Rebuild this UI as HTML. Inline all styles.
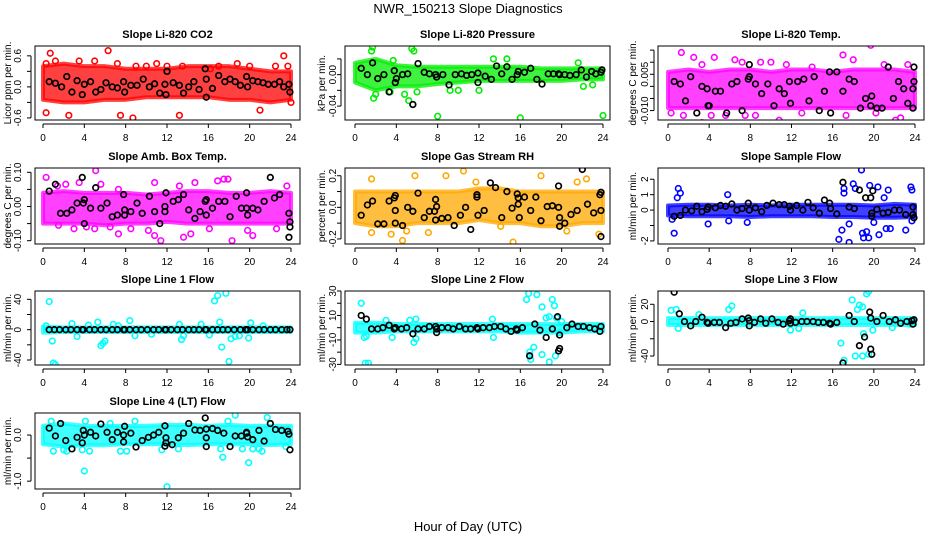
<!DOCTYPE html>
<html><head><meta charset="utf-8"><style>
html,body{margin:0;padding:0;background:#fff;}
svg{display:block;font-family:"Liberation Sans",sans-serif;}
</style></head><body>
<svg id="chart" width="936" height="540" viewBox="0 0 936 540">
<text x="468" y="13" text-anchor="middle" font-size="13">NWR_150213  Slope Diagnostics</text>
<text x="468" y="531" text-anchor="middle" font-size="13">Hour of Day (UTC)</text>
</svg>
<script>
const xTicks=[0,4,8,12,16,20,24];
const bandHours=[0,2,4,6,8,10,12,14,16,18,20,22,24];

const titles=["Slope Li-820 CO2","Slope Li-820 Pressure","Slope Li-820 Temp.","Slope Amb. Box Temp.","Slope Gas Stream RH","Slope Sample Flow","Slope Line 1 Flow","Slope Line 2 Flow","Slope Line 3 Flow","Slope Line 4 (LT) Flow"];
const yTitles=["Licor ppm per min.","kPa per min.","degrees C per min.","degrees C per min.","percent per min.","ml/min per min.","ml/min per min.","ml/min per min.","ml/min per min.","ml/min per min."];
const colors=["#ff0000","#00ee00","#ff00ff","#ff00ff","#ffa800","#0000ff","#00ffff","#00ffff","#00ffff","#00ffff"];
const yLims=[[-0.64,0.79],[-0.0577,0.0364],[-0.0139,0.0167],[-0.1097,0.1126],[-0.232,0.249],[-2.2,2.73],[-46.6,51],[-30.5,30],[-50.4,35.4],[-1.17,0.478]];
const yTickVals=[[-0.6,-0.3,0,0.3,0.6],[-0.04,-0.02,0,0.02],[-0.010,-0.005,0,0.005,0.010,0.015],[-0.10,-0.05,0,0.05,0.10],[-0.2,-0.1,0,0.1,0.2],[-2,-1,0,1,2],[-40,-20,0,20,40],[-30,-20,-10,0,10,20,30],[-40,-20,0,20],[-1,-0.5,0]];
const yTickLabels=[["-0.6","","0.0","","0.6"],["-0.04","","0.00",""],["-0.010","","","0.005","",""],["-0.10","","0.00","","0.10"],["-0.2","","0.0","","0.2"],["-2","","0","1","2"],["-40","","0","","40"],["-30","","-10","","10","","30"],["-40","","0","20"],["-1.0","","0.0"]];

const bandHi=[[0.4,0.45,0.4,0.4,0.35,0.35,0.35,0.4,0.4,0.4,0.35,0.3,0.3],[0.015,0.02,0.012,0.01,0.01,0.01,0.01,0.01,0.01,0.008,0.008,0.008,0.008],[0.006,0.007,0.006,0.007,0.007,0.006,0.007,0.007,0.006,0.007,0.007,0.007,0.006],[0.04,0.045,0.04,0.04,0.04,0.035,0.04,0.045,0.045,0.04,0.04,0.045,0.04],[0.1,0.1,0.1,0.1,0.1,0.1,0.12,0.12,0.1,0.1,0.1,0.1,0.1],[0.3,0.35,0.35,0.3,0.35,0.3,0.35,0.35,0.35,0.35,0.3,0.4,0.35],[4,3,3,3,3,3,3,3,3,3,3,3,3],[4,4,3,3,3,3,3,3,3,3,3,3,3],[4,4,4,4,4,4,4,4,4,4,4,4,4],[0.2,0.25,0.2,0.2,0.2,0.2,0.22,0.22,0.2,0.22,0.2,0.2,0.2]];
const bandLo=[[-0.25,-0.3,-0.3,-0.25,-0.25,-0.2,-0.2,-0.2,-0.2,-0.25,-0.25,-0.3,-0.25],[-0.01,-0.02,-0.015,-0.015,-0.012,-0.01,-0.008,-0.008,-0.008,-0.008,-0.008,-0.006,-0.006],[-0.009,-0.009,-0.009,-0.009,-0.009,-0.009,-0.009,-0.009,-0.009,-0.009,-0.009,-0.009,-0.009],[-0.05,-0.05,-0.05,-0.055,-0.05,-0.05,-0.045,-0.05,-0.05,-0.05,-0.05,-0.05,-0.05],[-0.1,-0.12,-0.12,-0.1,-0.1,-0.1,-0.08,-0.1,-0.1,-0.12,-0.12,-0.1,-0.1],[-0.35,-0.4,-0.4,-0.4,-0.45,-0.4,-0.4,-0.4,-0.45,-0.45,-0.5,-0.5,-0.45],[-4,-3,-3,-3,-3,-3,-3,-3,-3,-3,-3,-3,-3],[-4,-4,-3,-3,-3,-3,-3,-3,-4,-4,-4,-3,-3],[-4,-4,-4,-4,-4,-4,-4,-4,-4,-4,-4,-4,-4],[-0.2,-0.25,-0.22,-0.22,-0.2,-0.2,-0.2,-0.22,-0.2,-0.2,-0.2,-0.22,-0.2]];

const outX=[
[0.3,0.7,1.2,0.3,2.5,3.5,4,5,6.3,7,7.2,7.5,8.7,9,10,11,11.2,12,13.2,13.5,16.2,17,17.2,18.8,20,21,22.5,22,22.5,23.3,23.7,24],
[1.6,1.7,5.5,5.7,3.7,1.8,2,5.2,5.6,8.0,16,24,3.4,4.8,6,9.2,10,12,13.4,14.7,21.6,22.1,23.0],
[1.3,2.5,3.3,4.5,6.5,7.2,9,10,11.5,14,17,18,19.7,21,23.3,0.3,1.5,3.3,4.2,5.6,7.5,8.5,10.8,13,17.3,20.2,22.1,22.6],
[0.3,1.4,2.2,3.5,5.1,5.6,7.3,10.8,13.2,14.7,16.9,17.5,17.9,23.6,1.5,3.0,4.2,5.0,6.5,7.3,8.5,10.2,11.4,10.8,13.6,14.3,16.1,18.3,19.8,20.3,22.6],
[1.6,5.8,8.8,10.5,11.7,18,21.5,22.4,3.5,4.6,7.1,14.1,15.3,20.5,23.6,1.6,5],
[0.4,0.6,0.9,1.0,1.2,3.9,5.8,5.9,7.7,16.6,16.9,17.1,17.1,17.6,17.6,18.0,18.2,18.8,18.9,19.0,19.3,19.5,19.6,20.0,20.4,20.5,21.0,21.4,21.2,21.6,23.1,23.6,23.7,23.7],
[0.3,0.6,0.9,1.0,1.2,2.8,3.3,4.4,5.3,5.6,5.8,6,6.8,7.3,8.4,8.9,10.5,13.2,13.4,13.6,15.3,16.1,16.6,16.9,17.1,17.3,17.7,18.0,18.2,18.6,19.0,19.9,20.1,21.3],
[0.6,0.9,1.1,1.0,1.3,3,3.6,5.3,5.7,5.9,5.9,13.3,13.4,16.6,16.9,17.0,16.8,17.3,17.6,18.1,18.1,18.5,18.8,18.8,19.1,19.3,19.4,19.5,20,19.8],
[0.3,0.8,1.0,3.0,5.9,6.2,11.9,13.1,12.7,16.8,17.1,17.9,18.2,18.4,18.6,18.9,18.9,19.0,19.3,19.5,19.5,19.9,21.8,23.5],
[0.8,1.0,2,2.3,3.8,4,4.1,4.5,6.5,7.5,8.1,8.9,11.5,12,13.1,17.2,17.4,17.9,18.6,19.3,19.9,20.3,20.9,21.2,21.7,23.5]];
const outY=[
[0.45,0.65,0.5,-0.5,-0.55,0.5,-0.7,0.5,0.7,0.85,0.45,-0.55,-0.6,0.4,0.4,0.45,-0.7,0.4,-0.55,0.4,0.35,0.4,-0.7,0.45,0.4,-0.45,0.4,-0.9,-0.7,0.6,0.4,-0.3],
[0.03,0.035,0.033,0.03,0.018,-0.03,-0.025,-0.033,-0.038,-0.053,-0.055,-0.052,-0.022,-0.025,-0.022,-0.02,-0.02,-0.02,0.02,0.02,0.015,-0.015,-0.013],
[0.014,0.012,0.009,0.012,0.011,0.01,0.01,0.01,0.009,0.008,0.013,0.011,0.017,0.009,0.009,-0.011,-0.012,-0.015,-0.012,-0.012,-0.012,-0.012,-0.014,-0.011,-0.012,-0.011,-0.014,-0.013],
[0.085,0.06,0.065,0.07,0.105,0.065,0.05,0.07,0.06,0.07,0.075,0.08,0.08,0.06,-0.055,-0.065,-0.06,-0.065,-0.06,-0.08,-0.065,-0.07,-0.1,-0.085,-0.09,-0.08,-0.065,-0.1,-0.07,-0.085,-0.065],
[0.18,0.2,0.2,0.23,0.16,0.2,0.16,0.18,-0.17,-0.21,-0.16,-0.12,-0.22,-0.15,-0.17,-0.16,-0.15],
[-0.6,-1.5,0.8,1.4,1.1,-0.9,1.0,-0.7,-0.8,-1.9,-1.3,1.1,1.4,-2.1,-0.9,1.7,1.4,2.6,-1.5,-1.8,-1.4,-1.8,1.6,-0.8,1.5,-1.6,0.8,1.3,-1.2,-1.2,-1.3,1.5,1.3,-0.7],
[5,37,-15,-44,-46,8,-9,6,10,-21,-18,-15,7,5,12,-8,-6,7,-13,-8,7,-7,38,45,10,-23,48,-42,-12,-9,-8,-11,9,5],
[20,-8,-7,-29,-29,6,-8,6,-12,-9,7,7,-8,23,-20,-26,28,-16,27,17,-22,8,-28,9,23,18,-23,8,5,-4],
[13,14,-8,8,14,18,-10,10,-8,-25,-45,25,-40,14,19,-40,17,-14,32,35,-38,-10,-7,-3],
[0.3,-0.35,-0.32,-0.35,-0.32,-0.78,0.3,-0.35,0.25,-0.35,-0.35,0.3,-0.32,-1.12,-0.3,-0.3,-0.48,0.3,0.43,-0.3,-0.6,-0.3,-0.3,-0.35,0.38,-0.25]];

const blkX=[
[0.6,1.2,1.8,2.3,2.8,3.3,3.8,4,4.6,5.1,5.6,6.1,6.7,7.2,7.8,7.9,8.5,9.1,9.7,10.3,10.8,11.3,11.8,11.9,12,12.6,13.2,13.6,14.1,14.6,15.1,15.7,15.8,15.8,16.4,17,17.6,18.1,18.6,19.1,19.7,19.8,20.3,20.8,21.3,21.8,22.4,22.9,23.3,23.8,23.9],
[0.6,1.2,1.7,2.2,2.8,3.3,3.8,3.9,4,4.6,5.1,5.6,6.1,6.7,7.2,7.8,7.9,8.5,9.1,9.7,10.3,10.8,11.3,11.9,11.9,12.6,13.2,13.7,14.2,14.7,15.2,15.7,15.8,16.4,17,17.6,18.1,18.7,19.2,19.7,19.8,20.3,20.8,21.4,21.9,22.4,22.9,23.3,23.8,23.9],
[0.6,1.2,1.7,2.2,2.8,3.3,3.8,3.9,4,4.6,5.1,5.7,6.2,6.7,7.2,7.8,7.9,7.9,8.5,9.1,9.7,10.3,10.8,11.3,11.8,11.9,12.6,13.2,13.7,14.2,14.7,15.2,15.7,15.8,16.4,17,17.6,18.1,18.7,19.2,19.7,19.8,20.3,20.8,21.4,21.9,22.4,22.9,23.3,23.8,23.9,23.9,23.8],
[0.6,1.2,1.7,2.3,2.8,3.3,3.8,3.9,4,4,4.6,5.1,5.6,6.2,6.7,7.2,7.8,7.9,7.9,8.5,9.1,9.6,10.3,10.8,11.3,11.8,11.8,11.9,12.6,13.1,13.6,14.1,14.7,15.2,15.7,15.8,15.8,16.4,17.0,17.6,18.1,18.7,19.2,19.7,19.7,19.8,20.3,20.8,21.4,22.0,22.4,22.9,23.8,23.8,23.9,23.9],
[0.6,1.2,1.7,2.2,2.8,3.3,3.8,3.9,3.9,3.9,4.6,5.1,5.6,6.1,6.7,7.2,7.7,7.8,7.9,7.8,8.4,9,9.6,10.2,10.7,11.2,11.8,11.8,11.9,12.5,13.1,13.6,14.2,14.7,15.2,15.7,15.8,15.8,15.9,16.4,17.0,17.5,18.0,18.6,19.1,19.7,19.7,19.8,19.8,20.3,20.9,21.5,22.0,22.5,23.1,23.7,23.8,23.8,23.8],
[0.6,1.2,1.7,2.3,2.8,3.3,3.8,3.9,4.6,5.1,5.6,6.2,6.7,7.2,7.8,7.9,8.5,9.1,9.6,10.2,10.8,11.3,11.8,11.9,12.5,13.1,13.6,14.1,14.7,15.2,15.7,15.8,16.4,17.0,17.6,18.1,18.6,19.2,19.7,19.8,19.8,19.9,20.3,20.9,21.4,22.0,22.5,23.1,23.8,23.8,23.9],
[0.6,1.1,1.6,2.2,2.7,3.3,3.8,3.9,4.5,5.0,5.6,6.1,6.7,7.2,7.8,7.9,8.4,9.0,9.5,10.1,10.7,11.2,11.8,11.9,12.4,13.0,13.5,14.1,14.6,15.1,15.7,15.8,16.4,16.9,17.4,17.9,18.5,19.1,19.6,19.8,20.3,20.9,21.4,22.0,22.5,23.1,23.6,23.9],
[0.6,1.1,1.6,2.2,2.7,3.3,3.8,3.9,4.5,5.0,5.6,6.1,6.7,7.2,7.8,7.9,7.9,8.4,9.0,9.5,10.1,10.7,11.2,11.8,11.9,12.4,13.0,13.5,14.1,14.6,15.1,15.6,15.7,16.2,16.9,17.4,17.9,18.5,19.1,19.6,19.7,19.8,19.8,20.5,21.0,21.6,22.1,22.7,23.2,23.7,23.8],
[0.6,1.1,1.6,2.2,2.7,3.3,3.8,3.9,4.5,5.0,5.6,6.1,6.6,7.2,7.8,7.9,7.9,8.4,9.0,9.5,10.1,10.7,11.2,11.8,11.9,11.9,12.4,13.0,13.5,14.1,14.6,15.1,15.7,15.8,16.4,17.0,17.6,18.1,18.6,19.1,19.6,19.7,19.7,19.8,20.3,20.9,21.5,22.1,22.6,23.2,23.7,23.8,23.9],
[0.6,1.2,1.7,2.2,2.8,3.3,3.8,3.9,4,4.6,5.1,5.6,6.2,6.7,7.2,7.8,7.8,7.9,8.5,9.0,9.6,10.2,10.7,11.2,11.8,11.9,11.9,11.8,12.5,13.1,13.6,14.1,14.7,15.2,15.7,15.8,15.8,15.8,16.4,16.9,17.5,18.1,18.6,19.2,19.7,19.7,19.8,20.3,20.9,21.4,22,22.5,23.1,23.7,23.8,23.9]];
const blkY=[
[0.1,0.07,0.0,0.2,-0.1,0.12,-0.15,0.05,0.1,-0.1,-0.05,0.08,0.0,-0.02,0.1,-0.1,0.03,0.03,0.15,0.0,0.06,-0.12,0.05,-0.15,0.3,0.08,0.03,-0.12,0.0,0.1,-0.05,0.35,-0.2,0.15,-0.03,0.22,0.1,0.15,0.1,0.03,0.2,0.0,0.12,0.1,0.08,0.05,0.05,0.1,0.0,0.05,-0.1],
[0.008,0.0,0.015,-0.005,0.0,-0.022,0.005,-0.01,-0.005,0.0,0.001,-0.038,0.014,0.003,0.001,0.0,-0.003,0.0,-0.013,0.0,0.001,-0.001,0.0,-0.01,0.002,-0.002,-0.006,0.011,0.001,0.01,-0.006,0.0,0.004,0.003,0.008,-0.006,-0.012,0.001,0.001,0.001,0.0,0.0,-0.001,0.0,0.006,-0.003,0.004,0.001,0.003,0.006],
[0.002,0.001,-0.006,0.004,-0.011,0.0,-0.001,-0.008,-0.008,-0.002,-0.002,-0.011,0.001,0.002,-0.01,0.003,0.004,0.009,0.001,-0.003,0.001,-0.008,-0.001,-0.003,0.002,-0.007,0.002,0.003,-0.006,0.004,-0.01,-0.002,0.006,-0.011,0.006,-0.002,0.003,0.002,-0.009,-0.005,-0.008,-0.004,-0.009,-0.009,0.008,-0.005,0.002,-0.001,-0.007,-0.001,0.008,0.002,-0.009],
[0.045,0.065,-0.02,-0.02,-0.01,0.01,0.085,0.01,-0.05,0.02,-0.005,0.055,-0.005,0.01,-0.03,-0.025,0.035,-0.01,-0.025,-0.015,0.01,-0.02,0.03,-0.015,-0.05,0.0,-0.015,0.04,0.015,0.02,0.035,-0.01,-0.035,-0.015,0.015,-0.025,0.02,-0.005,0.015,0.015,-0.03,0.03,-0.005,0.04,-0.005,-0.025,-0.005,-0.01,0.015,0.085,0.025,0.035,-0.02,-0.09,-0.06,-0.045],
[-0.05,0.015,0.04,-0.105,-0.105,0.04,0.06,-0.02,0.075,-0.1,-0.115,0.0,-0.025,0.09,-0.065,-0.025,-0.025,0.05,0.005,-0.08,-0.07,-0.065,-0.115,-0.05,0.0,-0.14,0.08,0.065,-0.05,-0.02,0.155,0.125,-0.065,0.1,-0.005,0.085,0.06,0.02,-0.065,0.065,-0.02,0.065,-0.085,0.005,0.01,0.135,0.0,-0.065,-0.12,-0.1,-0.045,-0.02,0.24,0.02,-0.035,0.08,0.095,-0.02,-0.185],
[-0.4,-0.35,0.0,-0.05,0.25,-0.1,0.05,0.2,0.15,0.3,0.25,0.4,0.0,0.1,0.45,0.0,0.15,-0.1,0.3,0.45,0.35,0.35,0.25,0.0,0.3,0.0,0.5,0.15,-0.2,0.65,0.45,0.1,-0.25,1.8,0.2,0.1,1.3,0.8,0.8,-0.4,-0.2,1.25,0.05,-0.2,-0.15,0.0,0.0,-0.3,0.2,-0.3,-0.5],
[0,0,0,0,0,0,0,0,0,0,0,0,0,0,0,0,0,0,0,0,0,0,0,0,0,0,0,0,0,0,0,0,0,0,0,0,0,0,0,0,0,0,0,0,0,0,0,0],
[10,7,-1,-1,0,2,-1,0,-1,0,-5,-1,-1,1,1,-4,-1,0,0,-1,1,-1,-1,0,-1,0,0,1,1,-1,-3,-1,-2,0,-23,3,-2,-8,-1,9,-19,-17,-6,0,3,1,1,0,-1,-3,1],
[34,9,0,-5,0,5,-1,-2,-1,-1,-7,-2,-1,3,4,-5,1,-1,3,-2,3,-1,-3,1,3,-2,-1,0,0,0,-1,-1,-2,-3,-1,-48,7,0,-28,-18,11,4,-32,-38,0,7,0,2,-2,0,1,-3,2],
[0.15,-0.02,0.25,-0.12,-0.3,-0.05,-0.17,0.1,0.0,0.06,-0.02,0.24,0.06,-0.1,0.06,0.0,-0.15,0.19,0.04,-0.26,-0.12,-0.05,0.0,0.06,0.2,-0.06,-0.17,-0.24,-0.21,-0.06,0.04,0.25,0.11,0.1,0.37,-0.06,0.13,-0.25,0.14,0.1,0.04,-0.25,-0.02,-0.02,0.06,0.04,-0.04,-0.1,0.1,-0.13,0.25,0.12,0.1,0.08,0.02,-0.32]];

// layout (not data)
const cols=[{l:35,r:300,x0:43,x24:291,tl:21,tt:11},{l:345,r:610,x0:355,x24:603,tl:336,tt:325},{l:658,r:924,x0:668,x24:915,tl:648,tt:636}];
const rows=[{t:46,b:120},{t:168,b:244},{t:291,b:365},{t:413,b:489}];
const NS="http://www.w3.org/2000/svg";
const svg=document.getElementById('chart');
function mk(tag,attrs,parent){const e=document.createElementNS(NS,tag);for(const k in attrs)e.setAttribute(k,attrs[k]);(parent||svg).appendChild(e);return e;}
function slug(s){return s.toLowerCase().replace(/[^a-z0-9]+/g,'-').replace(/^-|-$/g,'');}

for(let p=0;p<10;p++){
  const c=cols[p%3], r=rows[Math.floor(p/3)];
  const [lo,hi]=yLims[p];
  const xs=h=>c.x0+(h/24)*(c.x24-c.x0);
  const ys=v=>r.b-(v-lo)/(hi-lo)*(r.b-r.t);
  const g=mk('g',{});
  
  
  const clip=mk('clipPath',{id:'clip'+p},g);
  mk('rect',{x:c.l,y:r.t,width:c.r-c.l,height:r.b-r.t},clip);
  const marks=mk('g',{'clip-path':'url(#clip'+p+')'},g);
  let pts=bandHours.map((h,i)=>xs(h)+','+ys(bandHi[p][i]));
  for(let i=bandHours.length-1;i>=0;i--)pts.push(xs(bandHours[i])+','+ys(bandLo[p][i]));
  const band=mk('polygon',{points:pts.join(' '),fill:colors[p],'fill-opacity':0.75,stroke:colors[p],'stroke-opacity':0.75,'stroke-width':4,'stroke-linejoin':'round'},marks);
  
  
  for(let i=0;i<outX[p].length;i++){
    const o=mk('circle',{cx:xs(outX[p][i]),cy:ys(outY[p][i]),r:2.8,fill:'none',stroke:colors[p],'stroke-width':1.6},marks);
    
    
  }
  for(let i=0;i<blkX[p].length;i++){
    const o=mk('circle',{cx:xs(blkX[p][i]),cy:ys(blkY[p][i]),r:2.8,fill:'none',stroke:'#000','stroke-width':1.7},marks);
    
    
  }
  const box=mk('rect',{x:c.l,y:r.t,width:c.r-c.l,height:r.b-r.t,fill:'none',stroke:'#000','stroke-width':1},g);
  
  
  const t=mk('text',{x:(c.l+c.r)/2,y:r.t-8,'text-anchor':'middle','font-size':11,'font-weight':'bold'},g);
  t.textContent=titles[p];
  
  
  mk('line',{x1:xs(0),x2:xs(24),y1:r.b+4,y2:r.b+4,stroke:'#000'},g);
  xTicks.forEach(h=>{
    mk('line',{x1:xs(h),x2:xs(h),y1:r.b+4,y2:r.b+8,stroke:'#000'},g);
    const tl=mk('text',{x:xs(h),y:r.b+21,'text-anchor':'middle','font-size':10},g);
    tl.textContent=h;
    
    
  });
  const tv=yTickVals[p];
  mk('line',{x1:c.l-4,x2:c.l-4,y1:ys(tv[0]),y2:ys(tv[tv.length-1]),stroke:'#000'},g);
  tv.forEach((v,i)=>{
    mk('line',{x1:c.l-8,x2:c.l-4,y1:ys(v),y2:ys(v),stroke:'#000'},g);
    if(yTickLabels[p][i]){
      const yl=mk('text',{x:c.tl,y:ys(v),'text-anchor':'middle','font-size':10,transform:'rotate(-90 '+c.tl+' '+ys(v)+')'},g);
      yl.textContent=yTickLabels[p][i];
      
      
    }
  });
  const my=(r.t+r.b)/2;
  const yt=mk('text',{x:c.tt,y:my,'text-anchor':'middle','font-size':10,transform:'rotate(-90 '+c.tt+' '+my+')'},g);
  yt.textContent=yTitles[p];
  
  
}
</script>
</body></html>
